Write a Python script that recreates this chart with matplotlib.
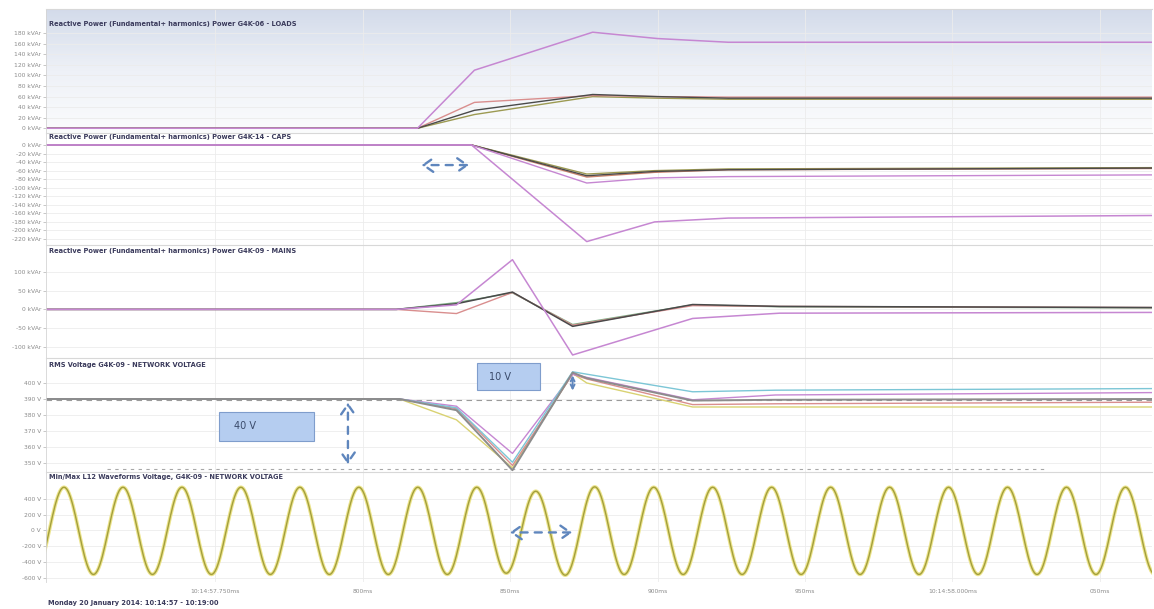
import numpy as np
import matplotlib.pyplot as plt
from matplotlib.colors import LinearSegmentedColormap
from matplotlib.patches import Rectangle

# time axis in ms after 10:14:57
TICK_T = [750, 800, 850, 900, 950, 1000, 1050]
TICK_LABELS = ["10:14:57.750ms", "800ms", "850ms", "900ms", "950ms", "10:14:58.000ms", "050ms"]
T_MIN, T_MAX = 692.6, 1067.7

# panel 1 - LOADS (kVAr)
loads_t = [692, 818.6, 837.9, 878, 900, 924, 1068]
loads_purple = [0, 0, 110, 182, 170, 163, 163]
loads_pink = [0, 0, 49, 62, 60, 59, 59]
loads_dark = [0, 0, 34, 64, 60, 57, 57]
loads_olive = [0, 0, 26, 60, 57, 55, 55]

# panel 2 - CAPS (kVAr)
caps_t = [692, 836.9, 876, 899, 924, 1068]
caps_purple = [0, 0, -226, -180, -171, -165]
caps_pink = [0, 0, -89, -77, -74, -70]
caps_red = [0, 0, -75, -64, -58, -55]
caps_dark = [0, 0, -72, -62, -58, -54]
caps_olive = [0, 0, -68, -60, -56, -53]

# panel 3 - MAINS (kVAr)
mains_t = [692, 811.4, 831.8, 850.8, 871.2, 911.9, 941.4, 1068]
mains_purple = [0, 0, 12, 132, -121, -24, -10, -8]
mains_pink = [0, 0, -11, 45, -42, 10, 8, 5]
mains_dark = [0, 0, 15, 46, -45, 13, 8, 5]
mains_green = [0, 0, 18, 44, -40, 12, 7, 4]

# panel 4 - RMS voltage (V)
rms_t = [692, 812.5, 831.8, 850.8, 871.2, 876, 911.9, 940, 1068]
rms_cyan = [390, 390, 384.5, 350.5, 407, 405.5, 394.5, 395.5, 396.5]
rms_purple = [390, 390, 385.5, 356, 405.5, 403.5, 389.5, 392.5, 394]
rms_pink = [390, 390, 384, 348.5, 405.5, 402.5, 386.5, 387, 388]
rms_yellow = [390, 390, 377, 347, 406, 400, 385, 385, 385]
rms_dark = [390, 390, 383, 345.5, 406.5, 403, 389, 389.5, 390]
rms_nominal = 389.5
rms_low = 346.3

# panel 5 - waveform extrema (V)
wave_peak_t = [698.7, 718.7, 738.7, 758.7, 778.7, 798.7, 818.7, 838.7, 858.7, 878.7,
               898.7, 918.7, 938.7, 958.7, 978.7, 998.7, 1018.7, 1038.7, 1058.7]
wave_peak_v = [545, 545, 545, 545, 545, 545, 545, 545, 495, 550,
               545, 545, 545, 545, 545, 545, 545, 545, 545]
wave_trough_t = [688.7, 708.7, 728.7, 748.7, 768.7, 788.7, 808.7, 828.7, 848.7, 868.7,
                 888.7, 908.7, 928.7, 948.7, 968.7, 988.7, 1008.7, 1028.7, 1048.7, 1068.7]
wave_trough_v = [-555, -555, -555, -555, -555, -555, -555, -555, -540, -565,
                 -555, -555, -555, -555, -555, -555, -555, -555, -555, -555]

PURPLE = "#c687d2"
DARK = "#4a4a4a"
OLIVE = "#9c9a52"
PINK = "#d98e8e"
RED = "#c9806a"
GREEN = "#7fae86"
CYAN = "#7cc6d6"
YELLOW = "#d9d272"
TITLE_C = "#3b3b5c"
TICK_C = "#8a8a8a"
BLUE_A = "#5f86bd"

W_PX, H_PX = 1154, 609
LEFT_PX, RIGHT_PX = 46, 1152


def add_panel(fig, top, bottom):
    return fig.add_axes([LEFT_PX / W_PX, 1 - bottom / H_PX,
                         (RIGHT_PX - LEFT_PX) / W_PX, (bottom - top) / H_PX])


def style_panel(ax, title, title_off, ylim, yticks, unit, last=False):
    ax.set_xlim(T_MIN, T_MAX)
    ax.set_ylim(*ylim)
    ax.set_yticks(yticks)
    ax.set_yticklabels([f"{v} {unit}" for v in yticks])
    ax.set_xticks(TICK_T)
    if last:
        ax.set_xticklabels(TICK_LABELS)
    else:
        ax.set_xticklabels([])
    ax.tick_params(axis="both", labelsize=4.3, colors="#b0b0b0", labelcolor=TICK_C,
                   length=2, width=0.5, pad=1.5)
    ax.tick_params(axis="x", length=0, pad=5)
    ax.grid(True, color="#ececec", lw=0.6)
    ax.set_axisbelow(True)
    for s in ["right", "bottom"]:
        ax.spines[s].set_visible(False)
    ax.spines["left"].set_color("#d4d4d4")
    ax.spines["top"].set_color("#d8d8d8")
    ax.spines["left"].set_linewidth(0.6)
    ax.spines["top"].set_linewidth(0.8)
    ax.set_facecolor("none")
    ax.annotate(title, xy=(0, 1), xycoords="axes fraction", xytext=(2, -title_off * 0.72),
                textcoords="offset points", va="center", ha="left", fontsize=4.8,
                fontweight="bold", color=TITLE_C)


def wave_curve(pt, pv, tt, tv):
    ext = sorted(list(zip(pt, pv)) + list(zip(tt, tv)))
    xs, ys = [], []
    for (t0, v0), (t1, v1) in zip(ext[:-1], ext[1:]):
        s = np.linspace(0, 1, 24)
        xs.extend(t0 + (t1 - t0) * s)
        ys.extend(v0 + (v1 - v0) * (1 - np.cos(np.pi * s)) / 2)
    return xs, ys


def dashed_arrow(ax, start, end, scale=14):
    ax.annotate("", xy=start, xytext=end,
                arrowprops=dict(arrowstyle="<->,head_length=0.5,head_width=0.35",
                                color=BLUE_A, lw=1.7, ls=(0, (3, 3)),
                                mutation_scale=scale))


fig = plt.figure(figsize=(11.54, 6.09), dpi=100)

# panel 1
ax1 = add_panel(fig, 9, 133)
cmap = LinearSegmentedColormap.from_list("bg", ["#d3dbea", "#eef1f7", "#fbfcfd"])
ax1.imshow(np.linspace(0, 1, 100).reshape(-1, 1), cmap=cmap, extent=[0, 1, 0, 1],
           transform=ax1.transAxes, aspect="auto", origin="upper", zorder=-1)
ax1.plot(loads_t, loads_olive, color=OLIVE, lw=1.0)
ax1.plot(loads_t, loads_pink, color=PINK, lw=1.0)
ax1.plot(loads_t, loads_dark, color=DARK, lw=1.0)
ax1.plot(loads_t, loads_purple, color=PURPLE, lw=1.1)
style_panel(ax1, "Reactive Power (Fundamental+ harmonics) Power G4K-06 - LOADS", 15,
            (-9, 226), list(range(0, 181, 20)), "kVAr")

# panel 2
ax2 = add_panel(fig, 133, 245)
ax2.plot(caps_t, caps_olive, color=OLIVE, lw=1.0)
ax2.plot(caps_t, caps_red, color=RED, lw=1.0)
ax2.plot(caps_t, caps_dark, color=DARK, lw=1.0)
ax2.plot(caps_t, caps_pink, color=PURPLE, lw=1.0)
ax2.plot(caps_t, caps_purple, color=PURPLE, lw=1.1)
style_panel(ax2, "Reactive Power (Fundamental+ harmonics) Power G4K-14 - CAPS", 4,
            (-234, 28), list(range(0, -221, -20)), "kVAr")
dashed_arrow(ax2, (819, -47), (837, -47))

# panel 3
ax3 = add_panel(fig, 245, 358)
ax3.plot(mains_t, mains_green, color=GREEN, lw=1.0)
ax3.plot(mains_t, mains_pink, color=PINK, lw=1.0)
ax3.plot(mains_t, mains_dark, color=DARK, lw=1.1)
ax3.plot(mains_t, mains_purple, color=PURPLE, lw=1.1)
style_panel(ax3, "Reactive Power (Fundamental+ harmonics) Power G4K-09 - MAINS", 6,
            (-129, 171), [100, 50, 0, -50, -100], "kVAr")

# panel 4
ax4 = add_panel(fig, 358, 472)
ax4.axhline(rms_nominal, color="#9a9a9a", lw=0.8, ls=(0, (5, 4)), zorder=1)
ax4.axhline(rms_low, xmin=0.055, xmax=0.905, color="#a8a8a8", lw=0.8, ls=(0, (3, 4)), zorder=1)
ax4.plot(rms_t, rms_yellow, color=YELLOW, lw=1.0)
ax4.plot(rms_t, rms_pink, color=PINK, lw=1.0)
ax4.plot(rms_t, rms_purple, color=PURPLE, lw=1.0)
ax4.plot(rms_t, rms_cyan, color=CYAN, lw=1.0)
ax4.plot(rms_t, rms_dark, color="#8c8c8c", lw=1.4)
style_panel(ax4, "RMS Voltage G4K-09 - NETWORK VOLTAGE", 7,
            (344.4, 415.6), [400, 390, 380, 370, 360, 350], "V")
ax4.add_patch(Rectangle((751.4, 363.8), 32.2, 18.1, facecolor="#b5cdf0",
                        edgecolor="#7f9dcc", lw=0.8, zorder=4))
ax4.text(756.5, 373.0, "40 V", fontsize=7, color="#3a4a6a", va="center", zorder=5)
ax4.add_patch(Rectangle((838.9, 395.6), 21.1, 16.9, facecolor="#b5cdf0",
                        edgecolor="#7f9dcc", lw=0.8, zorder=4))
ax4.text(843.0, 404.0, "10 V", fontsize=7, color="#3a4a6a", va="center", zorder=5)
dashed_arrow(ax4, (795, 389.5), (795, 347.5))
ax4.annotate("", xy=(871.2, 406.5), xytext=(871.2, 393.5),
             arrowprops=dict(arrowstyle="<->", color=BLUE_A, lw=1.4, mutation_scale=7))

# panel 5
ax5 = add_panel(fig, 472, 582)
wx, wy = wave_curve(wave_peak_t, wave_peak_v, wave_trough_t, wave_trough_v)
ax5.plot(wx, wy, color="#ece48c", lw=2.6)
ax5.plot(wx, wy, color="#a39f3c", lw=1.0)
style_panel(ax5, "Min/Max L12 Waveforms Voltage, G4K-09 - NETWORK VOLTAGE", 5,
            (-650, 737), [400, 200, 0, -200, -400, -600], "V", last=True)
dashed_arrow(ax5, (849, -25), (872, -25))

fig.text(48 / W_PX, 1 - 603 / H_PX, "Monday 20 January 2014: 10:14:57 - 10:19:00",
         fontsize=4.8, fontweight="bold", color=TITLE_C, va="center")

fig.savefig("out.png", dpi=100)
